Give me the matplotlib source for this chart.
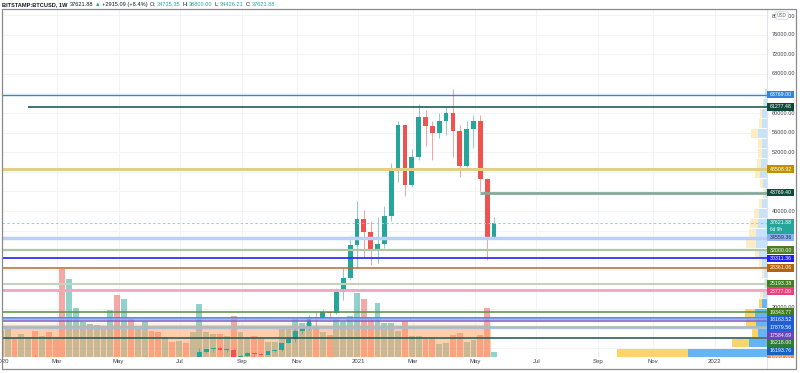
import numpy as np
import matplotlib.pyplot as plt
from matplotlib.patches import Rectangle
from matplotlib.lines import Line2D
from matplotlib.transforms import Bbox, TransformedBbox, blended_transform_factory

plt.rcParams['font.family'] = ['Liberation Sans', 'DejaVu Sans']

# BITSTAMP:BTCUSD weekly candles (Monday opens)
weeks = np.arange(np.datetime64('2020-01-06'), np.datetime64('2021-05-25'), np.timedelta64(7, 'D'))
opens = [7350, 8180, 8700, 8590, 9330, 10140, 9910, 9960, 8530, 8040,
         5360, 5830, 6240, 6770, 6910, 7130, 7700, 8900, 8720, 9680,
         8900, 9450, 9750, 9340, 9290, 9300, 9080, 9250, 9170, 9930,
         11150, 11750, 11950, 11650, 11700, 10250, 10330, 11000, 10780, 10680,
         11400, 11550, 13030, 13800, 15500, 16100, 18400, 18180, 19380, 19170,
         23500, 26270, 33050, 38300, 35800, 32250, 33200, 38900, 48700, 57500,
         45300, 50950, 59100, 57400, 55850, 58300, 60000, 56300, 49150, 56650,
         58350, 46450, 34735.35]
highs = [8200, 9190, 8800, 9560, 10160, 10500, 10250, 9990, 9200, 8180,
         6900, 6980, 7200, 7470, 7300, 7750, 9460, 10050, 9930, 9850,
         9600, 10380, 9970, 9580, 9780, 9380, 9480, 9320, 10040, 12100,
         11900, 12080, 12470, 12100, 12090, 10800, 11180, 11000, 10950, 11500,
         11720, 13350, 14090, 15980, 16480, 18800, 19420, 19900, 19420, 24300,
         28400, 34800, 42000, 40200, 38000, 38800, 41000, 49800, 58400, 57600,
         52600, 61800, 60600, 58400, 60000, 61300, 64900, 57500, 58400, 59700,
         59600, 46800, 38800.00]
lows = [7330, 8080, 8270, 8560, 9130, 9700, 9300, 8440, 8000, 3850,
        4450, 5700, 5880, 6750, 6480, 6780, 7630, 8510, 8180, 8620,
        8650, 9280, 9200, 9200, 8940, 8900, 9040, 9050, 9130, 9900,
        11000, 11150, 11580, 11150, 9880, 9880, 10200, 10140, 10380, 10530,
        11200, 11410, 12950, 13220, 14800, 15800, 16200, 18100, 17650, 19000,
        21850, 25900, 28300, 30550, 29000, 29300, 32350, 38000, 46000, 43000,
        44950, 50400, 53300, 50400, 54950, 55500, 51000, 47000, 48900, 52800,
        44000, 30000, 34426.21]
closes = [8180, 8700, 8590, 9330, 10140, 9910, 9960, 8530, 8040, 5360,
          5830, 6240, 6770, 6910, 7130, 7700, 8900, 8720, 9680, 8900,
          9450, 9750, 9340, 9290, 9300, 9080, 9250, 9170, 9930, 11150,
          11750, 11950, 11650, 11700, 10250, 10330, 11000, 10780, 10680, 11400,
          11550, 13030, 13800, 15500, 16100, 18400, 18180, 19380, 19170, 23500,
          26270, 33050, 38300, 35800, 32250, 33200, 38900, 48700, 57500, 45300,
          50950, 59100, 57400, 55850, 58300, 60000, 56300, 49150, 56650, 58350,
          46450, 34735.35, 37621.88]
# thousand BTC per week
volume = [40, 45.5, 28, 34.5, 29.5, 39, 31.5, 37.5, 29.5,
          131.5, 116.5, 73, 53, 49.5, 47.5, 43, 70.5, 93, 87, 57, 42,
          54, 39.5, 37, 30.5, 23, 24, 20.5, 38,
          79.5, 38, 34.5, 34.5, 31.5, 61.5, 38, 29.5, 31.5, 26.5, 23, 23,
          41.5, 42.5, 58, 51.5, 50.5, 46.5, 38, 33, 58, 53, 62,
          96.5, 86.5, 58, 80.5, 50.5, 51.5, 39, 54, 31.5, 31.5, 26.5, 26.5,
          19.5, 20.5, 33, 35.5, 23, 25.5, 33, 73, 8]

# visible range volume profile, rows from the top
vp_top = 65020
vp_step = 2040
vp_up = [1.5, 2.7, 4.7, 5.4, 9.4, 5.4, 5, 6, 6.7, 4, 2.4, 4.7, 7.7, 9.4, 10.7,
         11, 8, 5, 3.4, 1.7, 4.4, 5, 11.7, 10.7, 9.4, 18.4, 78.7]
vp_down = [0.5, 1.3, 2, 2.6, 6.3, 4, 3.7, 4, 5, 2.7, 1.6, 3.7, 5.7, 7.3, 7,
           9.7, 4.4, 3.4, 1.6, 1.7, 2.3, 3.4, 10.7, 10, 5.6, 16.6, 71]
vp_value_area_from = 21

# horizontal levels drawn on the chart
hl_prices = [63769.00, 61277.48, 48508.92, 43769.40, 34559.36, 32000.00, 30311.36,
             28361.06, 25193.38, 23777.00, 19343.77, 18163.52, 17879.56, 17584.69,
             16218.00, 16193.76, 14004.00]
hl_from = [None, '2020-02-03', None, '2021-05-10', None, None, None, None, None,
           None, None, None, None, None, None, None, None]
hl_line_colors = ['#2E86DE', '#1F5F50', '#E3CD8A', '#86A89A', '#BCD0F6', '#AFC4A5', '#3030FF',
                  '#B8682A', '#C3D2BB', '#F3A5C1', '#5A8E40', '#4E7EE6', '#86A6EC', '#8466C9',
                  '#AEBBA8', '#A9B9DB', '#2D5F5B']
hl_widths = [1.0, 1.2, 2.2, 2.0, 2.5, 1.6, 1.3, 1.1, 1.5, 2.0, 1.1, 1.3, 1.1, 1.2, 1.3, 1.3, 1.2]
hl_label_colors = ['#2E86DE', '#0E4A3A', '#BF9000', '#0E4D3A', '#8DB1F3', '#4C7F25', '#1E1EF5',
                   '#B4630F', '#3F7F22', '#EC407A', '#3C7D1A', '#1E5FD8', '#1E5FD8', '#6A43B8',
                   '#2E7D32', '#1565C0', '#F5894B']

price_ticks = [12000, 16000, 20000, 24000, 28000, 32000, 36000, 40000, 44000, 48000,
               52000, 56000, 60000, 64000, 68000, 72000, 76000, 80000]
tick_dates = ['2020-01-06', '2020-03-02', '2020-05-04', '2020-07-06', '2020-09-07', '2020-11-02',
              '2021-01-04', '2021-03-01', '2021-05-03', '2021-07-05', '2021-09-06', '2021-11-01',
              '2022-01-03']
tick_labels = ['2020', 'Mar', 'May', 'Jul', 'Sep', 'Nov', '2021', 'Mar', 'May', 'Jul', 'Sep', 'Nov', '2022']

UP, DOWN = '#26A69A', '#EF5350'
W, H = 800, 373


def fx(px):
    return px / W


def fy(py):
    return 1 - py / H


def week_index(d):
    return (np.datetime64(d, 'D') - np.datetime64('2021-01-04')).astype(int) / 7.0


fig = plt.figure(figsize=(W / 100, H / 100), dpi=100)
rect = [fx(2), fy(357), fx(767) - fx(2), fy(9) - fy(357)]
ax_v = fig.add_axes(rect)
ax = fig.add_axes(rect, sharex=ax_v)
ax.patch.set_alpha(0)

x = (weeks - np.datetime64('2021-01-04')).astype(int) / 7.0
o, h, l, c = map(np.array, (opens, highs, lows, closes))
rising = c >= o
xlim = (-51.82, 59.85)
ax_v.set_xlim(*xlim)
ax.set_ylim(10186, 81250)
ax_v.set_ylim(0, 522)

# grid
tick_x = [week_index(d) + 0.19 for d in tick_dates]
for tx in tick_x:
    ax_v.axvline(tx, color='#F1F3F7', lw=0.7, zorder=0)
blend = blended_transform_factory(ax_v.transAxes, ax.transData)
ax_v.hlines(price_ticks, 0, 1, transform=blend, color='#F1F3F7', lw=0.7, zorder=0)

# volume bars with the shaded band over them
ax_v.bar(x, volume, width=0.86, color=np.where(rising, UP, DOWN), alpha=0.5, lw=0, zorder=2)
ax_v.fill_between([xlim[0], 19.5], 0, 48, color='#FF9F5F', alpha=0.5, lw=0, zorder=3)
ax_v.fill_between([xlim[0], 19.5], 48, 51, color='#FF9F5F', alpha=0.15, lw=0, zorder=3)

# volume profile on the right edge
for i, (u, d) in enumerate(zip(vp_up, vp_down)):
    yc = vp_top - (i + 0.5) * vp_step
    in_va = i >= vp_value_area_from
    cu = '#63B5F6' if in_va else '#C6E3F9'
    cd = '#FCD36C' if in_va else '#FEEDC4'
    ax.barh(yc, u / 6.85, left=xlim[1] - u / 6.85, height=vp_step * 0.85, color=cu, lw=0, zorder=1)
    ax.barh(yc, d / 6.85, left=xlim[1] - (u + d) / 6.85, height=vp_step * 0.85, color=cd, lw=0, zorder=1)

# candles
cols = np.where(rising, UP, DOWN)
ax.vlines(x, l, h, colors=cols, lw=0.7, alpha=0.55, zorder=3)
ax.bar(x, np.maximum(np.abs(c - o), 150), bottom=np.minimum(o, c), width=0.7, color=cols, lw=0, zorder=4)

# horizontal levels
ax.axhline(c[-1], color='#8FD3CB', lw=0.7, ls=(0, (2.5, 2.5)), zorder=5)
for p, start, lc, lw in zip(hl_prices, hl_from, hl_line_colors, hl_widths):
    x0 = xlim[0] if start is None else week_index(start)
    ax.hlines(p, x0, xlim[1], color=lc, lw=lw, zorder=5)

ax.set_xlim(*xlim)
ax.tick_params(axis='x', bottom=False, labelbottom=False)
ax.set_yticks([])
ax_v.set_yticks([])
ax_v.set_xticks(tick_x)
ax_v.set_xticklabels(tick_labels)
ax_v.tick_params(axis='x', length=0, pad=1.6, labelsize=4.3, labelcolor='#3B3E47')
for a in (ax, ax_v):
    for s in a.spines.values():
        s.set_visible(False)

# price labels on the scale, stacked so they do not overlap
labels = [(p, f'{p:.2f}', bg, '#1F2A44' if p == 34559.36 else 'white')
          for p, bg in zip(hl_prices, hl_label_colors)]
labels.append((c[-1], f'{c[-1]:.2f}', UP, 'white'))
labels.sort(key=lambda t: -t[0])
clip = TransformedBbox(Bbox([[fx(767), fy(357.5)], [1, fy(9)]]), fig.transFigure)
prev = -100
boxes = []
for p, txt, bg, tc in labels:
    py = H - ax.transData.transform((0, p))[1]
    py = max(py, prev + 7.7)
    prev = py
    tall = 7.5 if p == c[-1] else 0
    boxes.append((py - 3.85, py + 3.85 + tall))
    r = Rectangle((fx(767), fy(py + 3.85 + tall)), fx(794) - fx(767), (7.7 + tall) / H,
                  transform=fig.transFigure, color=bg, lw=0, zorder=5)
    r.set_clip_box(clip)
    fig.add_artist(r)
    t = fig.text(fx(769.5), fy(py), txt, color=tc, fontsize=3.8, va='center', ha='left', zorder=6)
    t.set_clip_box(clip)
    t.set_clip_on(True)
    if tall:
        fig.text(fx(769.5), fy(py + 7), '6d 9h', color=tc, fontsize=3.4, va='center', ha='left', zorder=6)

# price scale ticks that are not hidden under a label
for t in price_ticks:
    py = H - ax.transData.transform((0, t))[1]
    if any(b0 - 2 < py < b1 + 2 for b0, b1 in boxes) and t != 20000:
        continue
    if any(b0 < py < b1 for b0, b1 in boxes):
        py -= 1.5
    if t == 80000:
        py += 1.5
    fig.text(fx(772), fy(py), f'{t:.2f}', color='#3B3E47', fontsize=4.1, va='center', ha='left')

fig.text(fx(782), fy(15.5), 'USD', fontsize=3.4, color='#6A6D78', ha='center', va='center', zorder=6,
         bbox=dict(boxstyle='round,pad=0.25', fc='white', ec='#C9CCD3', lw=0.5))

# frame
fig.add_artist(Line2D([fx(767), fx(767)], [fy(369), fy(9)], color='#E0E3EB', lw=0.8, transform=fig.transFigure))
fig.add_artist(Rectangle((fx(2), fy(369)), fx(796) - fx(2), fy(9) - fy(369), transform=fig.transFigure,
                         fill=False, ec='#8A8A8A', lw=0.9, zorder=7))

# header line, pieces placed one after another
renderer = fig.canvas.get_renderer()
hy = fy(4.5)
head = [('BITSTAMP:BTCUSD, 1W', '#131722', 'bold', 2.5), ('37621.88', '#131722', 'normal', 1.5),
        ('\u25b2', UP, 'normal', 1.5), ('+2915.09 (+8.4%)', '#131722', 'normal', 2.5),
        ('O:', '#131722', 'normal', 0.6), ('34735.35', UP, 'normal', 2.0),
        ('H:', '#131722', 'normal', 0.6), ('38800.00', UP, 'normal', 2.0),
        ('L:', '#131722', 'normal', 0.6), ('34426.21', UP, 'normal', 2.0),
        ('C:', '#131722', 'normal', 0.6), ('37621.88', UP, 'normal', 2.0)]
xp = 2
for txt, col, wt, gap in head:
    t = fig.text(fx(xp), hy, txt, color=col, fontsize=4.1, fontweight=wt, va='center', ha='left')
    xp = t.get_window_extent(renderer).x1 + gap

fig.savefig('out.png', dpi=100, facecolor='white')
